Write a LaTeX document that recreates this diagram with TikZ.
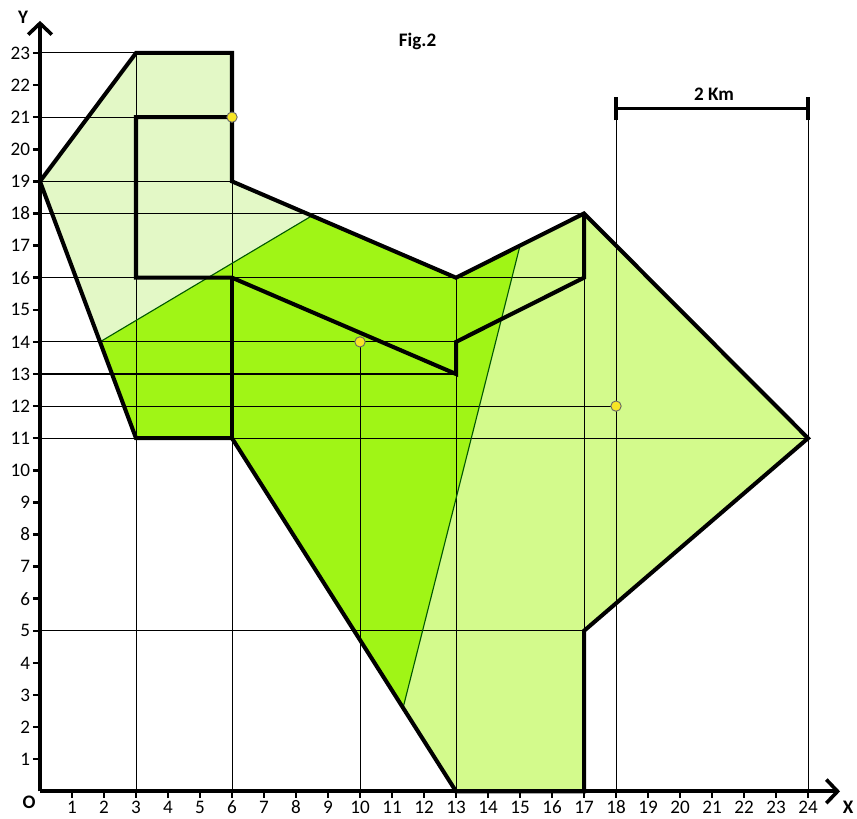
\documentclass[tikz,border=0pt]{standalone}
\usepackage{fontspec}
\setmainfont{Carlito}
\usepackage{tikz}
\usetikzlibrary{arrows.meta}
\definecolor{FPale}{HTML}{E3F8C6}
\definecolor{FLime}{HTML}{A0F516}
\definecolor{FLight}{HTML}{D3FA8C}
\definecolor{FDot}{HTML}{F7E525}

\begin{document}
\begin{tikzpicture}[
  x=0.5cm,y=0.5016cm,
  every node/.style={font=\fontsize{8.5}{10}\selectfont,inner sep=0pt},
  edge/.style={line width=1.8pt,line join=miter},
  grid/.style={line width=0.45pt,color=black},
  seam/.style={line width=0.5pt,color=black!65!green},
  axis/.style={line width=1.8pt,
    -{Straight Barb[length=5pt,width=10.5pt,line width=1.6pt]}},
  tick/.style={line width=1.1pt},
  dot/.style={circle,draw=black!60,fill=FDot,line width=0.4pt,
    minimum size=4.6pt},
  bold/.style={font=\fontsize{8.5}{10}\selectfont\bfseries}
]
  \useasboundingbox (-1.25,-0.84) rectangle (25.53,24.65);

  % corners of the outline
  \coordinate (west) at (0,19);
  \coordinate (nw) at (3,23);
  \coordinate (ne) at (6,23);
  \coordinate (neck) at (6,19);
  \coordinate (notch) at (13,16);
  \coordinate (crest) at (17,18);
  \coordinate (east) at (24,11);
  \coordinate (hip) at (17,5);
  \coordinate (foot) at (17,0);
  \coordinate (heel) at (13,0);
  \coordinate (knee) at (6,11);
  \coordinate (chin) at (3,11);
  \coordinate (beak) at (1.875,14);
  \coordinate (seamA) at (8.5,17.93);
  \coordinate (seamB) at (15,17);
  \coordinate (seamC) at (11.345,2.6);

  \fill[FPale] (west) -- (nw) -- (ne) -- (neck) -- (seamA) -- (beak) -- cycle;
  \fill[FLime] (beak) -- (seamA) -- (notch) -- (seamB) -- (seamC)
    -- (knee) -- (chin) -- cycle;
  \fill[FLight] (seamB) -- (crest) -- (east) -- (hip) -- (foot) -- (heel)
    -- (seamC) -- cycle;

  \foreach \y/\x in {23/3,21/6,19/6,18/17,16/17,14/13,13/13,12/18,11/24,5/17}
    \draw[grid] (0,\y) -- (\x,\y);
  \foreach \x/\y in {3/23,6/23,10/14,13/16,17/18,18/21.27,24/21.27}
    \draw[grid] (\x,0) -- (\x,\y);

  \draw[seam] (beak) -- (seamA);
  \draw[seam] (seamB) -- (seamC);

  \draw[edge] (west) -- (nw) -- (ne) -- (neck) -- (notch) -- (crest)
    -- (east) -- (hip) -- (foot) -- (heel) -- (knee) -- (chin) -- cycle;
  \draw[edge] (6,21) -- (3,21) -- (3,16) -- (6,16) -- (13,13) -- (13,14)
    -- (17,16) -- (crest);
  \draw[edge] (6,16) -- (knee);

  \draw[axis] (0,0) -- (0,24);
  \draw[axis] (0,0) -- (25,0);
  \foreach \k in {1,...,23} {
    \draw[tick] (-0.22,\k) -- (0,\k);
    \node[anchor=east] (yt\k) at (-0.3,\k) {\k};
  }
  \foreach \k in {1,...,24} {
    \draw[tick] (\k,0) -- (\k,-0.2);
    \node[anchor=north] (xt\k) at (\k,-0.28) {\k};
  }
  \node[bold] (ylab) at (-0.53,24.12) {Y};
  \node[bold] (xlab) at (25.25,-0.5) {X};
  \node[bold] (olab) at (-0.34,-0.33) {O};

  % scale bar
  \draw[line width=1.5pt] (18,21.27) -- (24,21.27);
  \draw[line width=1.8pt] (18,20.9) -- (18,21.62);
  \draw[line width=1.8pt] (24,20.9) -- (24,21.62);
  \node[bold] (km) at (21.06,21.72) {2 Km};

  \node[bold] (fig) at (11.8,23.36) {Fig.2};

  \node[dot] (d1) at (6,21) {};
  \node[dot] (d2) at (10,14) {};
  \node[dot] (d3) at (18,12) {};
\end{tikzpicture}
\end{document}
